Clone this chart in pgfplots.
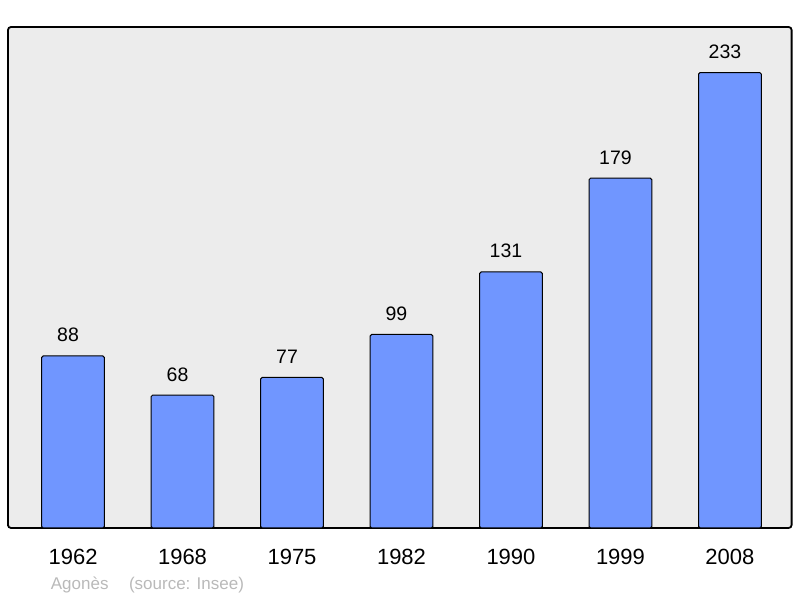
\documentclass[border=0pt]{standalone}
\usepackage{pgfplots}
\pgfplotsset{compat=1.18}
\usepackage{fontspec}
\setmainfont{Liberation Sans}
\definecolor{barblue}{RGB}{112,150,255}
\definecolor{panel}{RGB}{236,236,236}
\definecolor{foot}{RGB}{185,185,185}
\begin{document}
\begin{tikzpicture}
\begin{axis}[
    scale only axis,
    width=783.6pt,
    height=501pt,
    ymin=0, ymax=256.3,
    xmin=-0.594, xmax=6.563,
    xtick=data,
    xticklabels={1962,1968,1975,1982,1990,1999,2008},
    ytick=\empty,
    major tick length=0pt,
    axis background/.style={fill=panel},
    axis line style={line width=1.8pt, rounded corners=3pt},
    xticklabel style={anchor=base, yshift=-37pt, font=\fontsize{22}{26}\selectfont},
    ybar,
    bar width=0.572,
    nodes near coords,
    /pgf/number format/assume math mode=true,
    every node near coord/.append style={anchor=base, xshift=-5pt, yshift=14pt, font=\fontsize{19.5}{23}\selectfont, black},
    clip=false,
]
\addplot[fill=barblue, draw=black, line width=1pt, rounded corners=1.5pt]
    coordinates {(0,88) (1,68) (2,77) (3,99) (4,131) (5,179) (6,233)};
\node[anchor=base west, inner sep=0pt, text=foot, font=\fontsize{17}{20}\selectfont]
    at ([xshift=42.7pt, yshift=-62pt]rel axis cs:0,0) {Agonès\hspace*{20.5pt}(source: Insee)};
\path ([xshift=-8pt, yshift=-70pt]rel axis cs:0,0) rectangle ([xshift=8.4pt, yshift=27pt]rel axis cs:1,1);
\end{axis}
\end{tikzpicture}
\end{document}
